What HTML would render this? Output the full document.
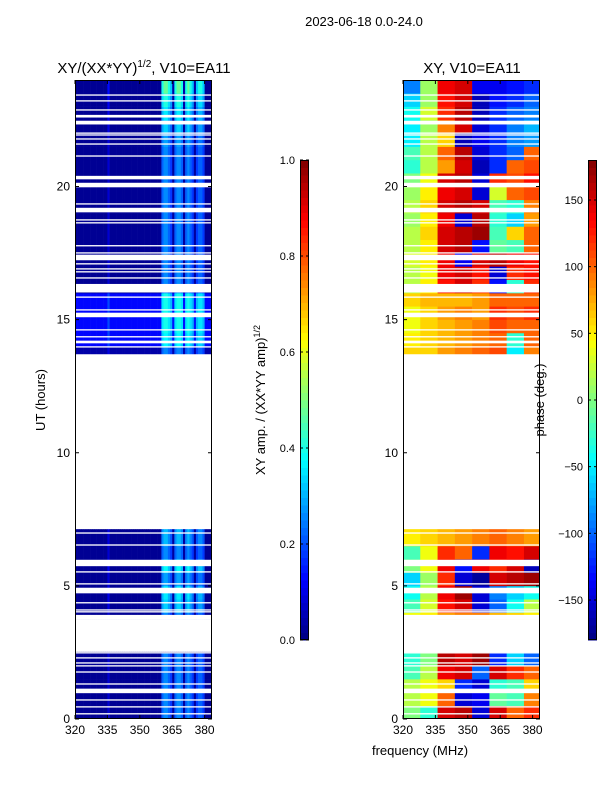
<!DOCTYPE html>
<html><head><meta charset="utf-8"><style>
body{margin:0;background:#fff;}
svg{display:block;font-family:"Liberation Sans",sans-serif;}
</style></head><body>
<svg id="c" width="600" height="800"></svg>
<script>
// ---- data ----
const freqCols = [320,328,336,344,352,360,368,376];
const phaseRows = {
0:[0,-30,150,160,-150,150,100,120],1:[20,40,100,-150,-140,-10,-20,90],2:[20,40,60,-120,-150,-30,-20,60],
3:[-20,20,140,150,-100,150,120,100],4:[-30,0,160,150,170,-120,-60,-100],
7:[40,50,80,90,90,70,60,50],8:[-20,30,130,150,-150,-100,-40,20],9:[-40,20,140,170,-150,-90,-60,-40],
10:[-60,10,120,-150,-170,150,160,170],11:[0,40,140,-130,140,120,150,-160],12:[-20,40,120,100,-120,140,130,150],
13:[50,60,70,80,90,100,90,80],14:[55,60,70,80,90,100,90,80],
27:[60,60,80,90,100,110,-50,90],28:[50,60,70,80,90,100,-30,100],29:[40,60,70,80,90,110,100,100],
30:[40,60,80,90,80,120,110,120],31:[60,70,70,70,80,100,100,100],32:[20,50,130,150,120,-130,-30,120],
33:[20,40,140,150,130,-150,120,130],34:[30,50,140,-140,150,160,140,130],35:[20,50,150,160,-130,-10,-20,100],
36:[20,60,150,160,170,-20,60,100],37:[10,50,140,-150,160,-30,-60,80],38:[20,60,150,160,150,-20,-30,90],
39:[10,50,140,150,-150,30,100,110],40:[0,40,150,160,-150,120,110,130],41:[-30,20,80,150,-160,-120,100,110],
42:[-20,20,100,160,-150,-120,-100,100],43:[-50,20,60,-160,-140,-120,-90,-80],44:[-50,10,90,150,-150,-120,-90,-70],
45:[-40,30,120,160,-160,-120,-100,-90],46:[-60,10,130,150,-160,-130,-120,-100],47:[-90,10,140,150,-140,-140,-130,-120]
};
const ampProfile = [0,0,0,0,0,0,0,0,0,0,0,0,0,0,0,0.06,0,0,0,0,0,0,0,0,0,0,0,0,0,0,0,0,0,0,0,0,0,0,0,0,
0.2,0.24,0.24,0.2,0.16,0.01,0.2,0.24,0.24,0.2,0.01,0.2,0.24,0.2,0.16,0.01,0.16,0.2,0.2,0.16,0,0,0,0];
const ampRowFactor = [1,1,1,1,1,0,0,1,1.3,1.4,1.1,1.5,1,1.2,1.2,0,0,0,0,0,0,0,0,0,0,0,0,
0.9,1,1.1,1.1,1.1,1,1,1,1,1,1,1,1,1,1,1,1.1,1.3,1.4,1.6,1.9];
const ampBase = [0.02,0.02,0.02,0.02,0.02,0,0,0.02,0.02,0.02,0.02,0.02,0.02,0.02,0.02,0,0,0,0,0,0,0,0,0,0,0,0,
0.04,0.13,0.13,0.13,0.13,0.02,0.02,0.02,0.02,0.02,0.02,0.02,0.02,0.02,0.02,0.02,0.02,0.02,0.02,0.02,0.02];
const segStart = [0,3.76,13.7];
const segEnd = [2.52,7.13,24];
const gapStart = [0.17,0.43,0.69,0.97,1.29,1.74,1.97,2.08,2.27,2.46,3.74,4.0,4.07,4.34,4.72,5.05,5.5,5.74,6.51,6.96,
13.46,13.95,14.11,14.33,14.59,15.09,15.34,15.82,16.02,16.54,16.77,16.88,17.07,17.23,17.48,17.75,18.61,18.72,19.03,19.32,19.97,20.27,
21.12,21.57,21.76,21.91,21.98,22.33,22.59,22.85,23.19,23.41];
const gapEnd = [0.22,0.48,0.74,1.14,1.34,1.79,2.02,2.13,2.32,2.51,3.91,4.05,4.12,4.39,4.93,5.1,5.55,5.98,6.56,7.01,
13.7,14.0,14.21,14.38,14.64,15.26,15.39,15.87,16.34,16.59,16.82,16.93,17.12,17.44,17.53,17.8,18.66,18.77,19.2,19.37,20.14,20.4,
21.17,21.62,21.81,21.96,22.03,22.47,22.69,22.9,23.24,23.46];
const yTicks = [0,5,10,15,20];
const xTicks = [320,335,350,365,380];
const ampTicks = [0.0,0.2,0.4,0.6,0.8,1.0];
const phaseTicks = [-150,-100,-50,0,50,100,150];

// ---- helpers ----
const NS="http://www.w3.org/2000/svg", svg=document.getElementById('c');
function mk(t,a,p){const e=document.createElementNS(NS,t);for(const k in a)e.setAttribute(k,a[k]);(p||svg).appendChild(e);return e;}
function jet(v){v=Math.max(0,Math.min(1,v));
 const r=Math.max(0,Math.min(1,1.5-Math.abs(4*v-3))),g=Math.max(0,Math.min(1,1.5-Math.abs(4*v-2))),b=Math.max(0,Math.min(1,1.5-Math.abs(4*v-1)));
 return `rgb(${Math.round(r*255)},${Math.round(g*255)},${Math.round(b*255)})`;}
const yB=719,top24=80;
function yS(h){return yB-(yB-top24)*h/24;}
function panelX(x0){return f=>x0+(f-320)*2.16;}
const panels=[{x0:75,w:137,name:'amp'},{x0:403,w:137,name:'phase'}];

panels.forEach(P=>{
 const xS=panelX(P.x0);
 const g=mk('g',{},svg);
 
 
 const clip=mk('clipPath',{id:'cl'+P.name});mk('rect',{x:P.x0,y:top24,width:P.w,height:yB-top24},clip);
 g.setAttribute('clip-path','url(#cl'+P.name+')');
 for(let r=0;r<48;r++){
  const h0=r*0.5,h1=h0+0.5;
  for(let s=0;s<segStart.length;s++){
   const a=Math.max(h0,segStart[s]),b=Math.min(h1,segEnd[s]); if(b<=a)continue;
   if(P.name==='amp'){
    for(let c=0;c<ampProfile.length;c++){
     const v=ampBase[r]+ampProfile[c]*ampRowFactor[r];
     const cell=mk('rect',{x:xS(320+c),y:yS(b),width:2.16+0.3,height:yS(a)-yS(b)+0.3,fill:jet(v)},g);
     
     
    }
   } else {
    const row=phaseRows[r]; if(!row)continue;
    for(let c=0;c<freqCols.length;c++){
     const v=(row[c]+180)/360;
     const cell=mk('rect',{x:xS(freqCols[c]),y:yS(b),width:8*2.16+0.3,height:yS(a)-yS(b)+0.3,fill:jet(v)},g);
     
     
    }
   }
  }
 }
 for(let i=0;i<gapStart.length;i++){
  const gp=mk('rect',{x:P.x0,y:yS(gapEnd[i]),width:P.w,height:yS(gapStart[i])-yS(gapEnd[i]),fill:'#fff'},g);
  
  
 }
 const fr=mk('rect',{x:P.x0+0.5,y:top24+0.5,width:P.w-1,height:yB-top24-1,fill:'none',stroke:'#000','stroke-width':1});
 
 
 yTicks.forEach(t=>{const y=yS(t);
  mk('line',{x1:P.x0,x2:P.x0+4,y1:y,y2:y,stroke:'#000'});mk('line',{x1:P.x0+P.w-4,x2:P.x0+P.w,y1:y,y2:y,stroke:'#000'});
  const tx=mk('text',{x:P.x0-5,y:y+4,'text-anchor':'end','font-size':12});tx.textContent=t;
  
  });
 xTicks.forEach(t=>{const x=xS(t);
  mk('line',{x1:x,x2:x,y1:yB,y2:yB-4,stroke:'#000'});mk('line',{x1:x,x2:x,y1:top24,y2:top24+4,stroke:'#000'});
  const tx=mk('text',{x:x,y:yB+15,'text-anchor':'middle','font-size':12});tx.textContent=t;
  
  });
});

// colorbars
function colorbar(x,ticks,lo,hi,name){
 const g=mk('g',{});
 const n=64;for(let i=0;i<n;i++){mk('rect',{x:x,y:640-(i+1)*480/n,width:9,height:480/n+0.5,fill:jet((i+0.5)/n)},g);}
 mk('rect',{x:x+0.5,y:160.5,width:8,height:479,fill:'none',stroke:'#000'},g);
 ticks.forEach(t=>{const y=640-(t-lo)/(hi-lo)*480;
  mk('line',{x1:x,x2:x+3,y1:y,y2:y,stroke:'#000'},g);mk('line',{x1:x+6,x2:x+9,y1:y,y2:y,stroke:'#000'},g);
  const tx=mk('text',{x:x-5,y:y+4,'text-anchor':'end','font-size':11},g);
  tx.textContent=(name==='amp-colorbar')?t.toFixed(1):(t<0?'\u2212'+(-t):t);
  
  });
}
colorbar(300,ampTicks,0,1,'amp-colorbar');
colorbar(588,phaseTicks,-180,180,'phase-colorbar');
</script>
<svg width="600" height="800" style="position:absolute;left:0;top:0;font-family:'Liberation Sans',sans-serif">
<text x="364" y="26" text-anchor="middle" font-size="13">2023-06-18 0.0-24.0</text>
<text x="144" y="73" text-anchor="middle" font-size="15">XY/(XX*YY)<tspan dy="-6" font-size="10">1/2</tspan><tspan dy="6">, V10=EA11</tspan></text>
<text x="472" y="73" text-anchor="middle" font-size="15">XY, V10=EA11</text>
<text transform="translate(45,400) rotate(-90)" text-anchor="middle" font-size="13">UT (hours)</text>
<text x="420" y="755" text-anchor="middle" font-size="13">frequency (MHz)</text>
<text transform="translate(265,400) rotate(-90)" text-anchor="middle" font-size="13">XY amp. / (XX*YY amp)<tspan dy="-5" font-size="9">1/2</tspan></text>
<text transform="translate(544,400) rotate(-90)" text-anchor="middle" font-size="13">phase (deg.)</text>
</svg>
</body></html>
